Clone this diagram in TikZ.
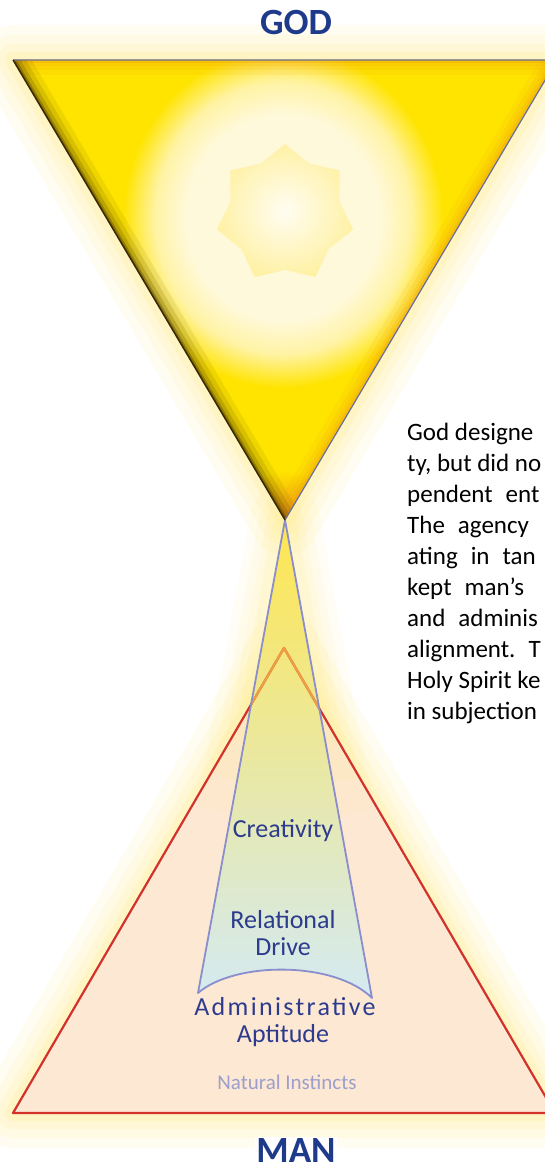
\documentclass[tikz,border=0pt]{standalone}
\usepackage{fontspec}
\setmainfont{Carlito}
\usetikzlibrary{calc}
\definecolor{godyellow}{HTML}{FFE400}
\definecolor{glowy}{HTML}{FFEC80}
\definecolor{glowA}{HTML}{FFF9DC}
\definecolor{glowB}{HTML}{FFF3A4}
\definecolor{starY}{HTML}{FFF1A6}
\definecolor{starC}{HTML}{FFFDF2}
\definecolor{peach}{HTML}{FDE8D4}
\definecolor{manred}{HTML}{D2322A}
\definecolor{manorange}{HTML}{EEA040}
\definecolor{beamline}{HTML}{8A8ECC}
\definecolor{beamtop}{HTML}{FFE650}
\definecolor{beammid}{HTML}{F5F0BA}
\definecolor{beambot}{HTML}{D4EAF2}
\definecolor{labelblue}{HTML}{2C3B8E}
\definecolor{titleblue}{HTML}{1E3A8A}
\definecolor{instinct}{HTML}{9C9FCC}
\definecolor{edgedark}{HTML}{3A2800}
\definecolor{edgeorange}{HTML}{F09A10}
\definecolor{topline}{HTML}{6A6E98}
\pgfdeclareradialshading{godglow}{\pgfpoint{0bp}{0bp}}{color(0bp)=(starC); color(8bp)=(glowA); color(15bp)=(glowA); color(20bp)=(glowB); color(25bp)=(godyellow); color(50bp)=(godyellow)}
\newcommand{\jgap}{\hspace{13pt}}
\tikzset{
  lab/.style={anchor=base, text=labelblue, font=\fontsize{26}{30}\selectfont, inner sep=0pt},
  para/.style={anchor=base west, text=black, font=\fontsize{25}{30}\selectfont, inner sep=0pt},
  ttl/.style={anchor=base, text=titleblue, font=\fontsize{37}{40}\selectfont\bfseries, inner sep=1pt},
  glowline/.style={glowy, line join=round},
}
\begin{document}
\begin{tikzpicture}[x=1pt,y=-1pt,line join=round]
\useasboundingbox (0,0) rectangle (545,1172);
\fill[white] (0,0) rectangle (545,1172);
% key points
\coordinate (TL) at (13,60);
\coordinate (TR) at (557,60);
\coordinate (TV) at (285,520);
\coordinate (MA) at (284,648);
\coordinate (ML) at (13,1113);
\coordinate (MR) at (555,1113);
\coordinate (BL) at (198,993);
\coordinate (BR) at (372,998);
% outer glow
\foreach \w/\o in {70/0.10,50/0.12,32/0.15,16/0.2}{
  \draw[glowline, line width=\w, opacity=\o] (TL)--(TR)--(TV)--cycle;
  \draw[glowline, line width=\w, opacity=\o] (MA)--(ML)--(MR)--cycle;
}
% man triangle
\fill[peach] (MA)--(ML)--(MR)--cycle;
% beam glow
\foreach \f/\w/\o in {0.62/70/0.07,0.55/52/0.09,0.47/36/0.11,0.40/22/0.14}{
  \draw[glowline, line width=\w, opacity=\o] ($(TV)!\f!(BL)$)--(TV)--($(TV)!\f!(BR)$);
}
% beam
\shade[top color=beamtop, middle color=beammid, bottom color=beambot]
  (TV)--(BR) .. controls (335,961) and (235,961) .. (BL)--cycle;
\draw[manred, line width=2.2] (MA)--(ML)--(MR)--cycle;
\begin{scope}
  \clip (TV)--(BR) .. controls (335,961) and (235,961) .. (BL)--cycle;
  \draw[manorange, line width=2.2] (MA)--(ML)--(MR)--cycle;
\end{scope}
\draw[beamline, line width=1.8] (TV)--(BR) .. controls (335,961) and (235,961) .. (BL)--cycle;
% GOD triangle
\fill[godyellow] (TL)--(TR)--(TV)--cycle;
\begin{scope}
  \clip (TL)--(TR)--(TV)--cycle;
  \shade[shading=godglow] (283,218) ellipse [x radius=160, y radius=170];
  \shade[inner color=starC, outer color=starY]
    (285,144)--(309.3,163.5)--(339.7,170.4)--(339.6,201.5)--(353.2,229.6)--(328.8,248.9)
    --(315.4,277.1)--(285,270)--(254.6,277.1)--(241.2,248.9)--(216.8,229.6)--(230.4,201.5)
    --(230.3,170.4)--(260.7,163.5)--cycle;
  \shade[inner color=edgeorange, outer color=godyellow] (TV) circle (50);
  \foreach \w/\o in {30/0.10,20/0.12,12/0.16,6/0.25}{
    \draw[edgeorange, line width=\w, opacity=\o] (TR)--(TV);
    \draw[edgeorange, line width=\w, opacity=0.9*\o] (TL)--(TR);
  }
  \foreach \w/\o in {32/0.08,22/0.12,13/0.18,6/0.3,2.5/0.6}{
    \draw[edgedark, line width=\w, opacity=\o] (TL)--(TV);
  }
\end{scope}
\draw[topline, line width=1.2] (TL)--(TR)--(TV);
\draw[edgedark, line width=1.3] (TL)--(TV);
% text box
\fill[white] (393,410) rectangle (560,736);
\node[para] (p1) at (407,440.0) {God designe};
\node[para] (p2) at (407,471.1) {ty, but did no};
\node[para] (p3) at (407,502.2) {pendent\jgap ent};
\node[para] (p4) at (407,533.3) {The\jgap agency};
\node[para] (p5) at (407,564.4) {ating\jgap in\jgap tan};
\node[para] (p6) at (407,595.5) {kept\jgap man’s};
\node[para] (p7) at (407,626.6) {and\jgap adminis};
\node[para] (p8) at (407,657.7) {alignment.\jgap T};
\node[para] (p9) at (407,688.8) {Holy Spirit ke};
\node[para] (p10) at (407,719.9) {in subjection};
% labels
\node[lab] (cre) at (283,837) {Creativity};
\node[lab] (rel) at (283,928) {Relational};
\node[lab] (drv) at (283,955) {Drive};
\node[lab, font=\fontsize{26}{30}\selectfont\addfontfeatures{LetterSpace=9}] (adm) at (285,1015) {Administrative};
\node[lab] (apt) at (283,1042) {Aptitude};
\node[lab, text=instinct, font=\fontsize{21}{25}\selectfont] (nat) at (287,1089) {Natural Instincts};
\node[ttl] (god) at (296,35) {GOD};
\node[ttl, fill=white] (man) at (296,1162) {MAN};
\end{tikzpicture}
\end{document}
